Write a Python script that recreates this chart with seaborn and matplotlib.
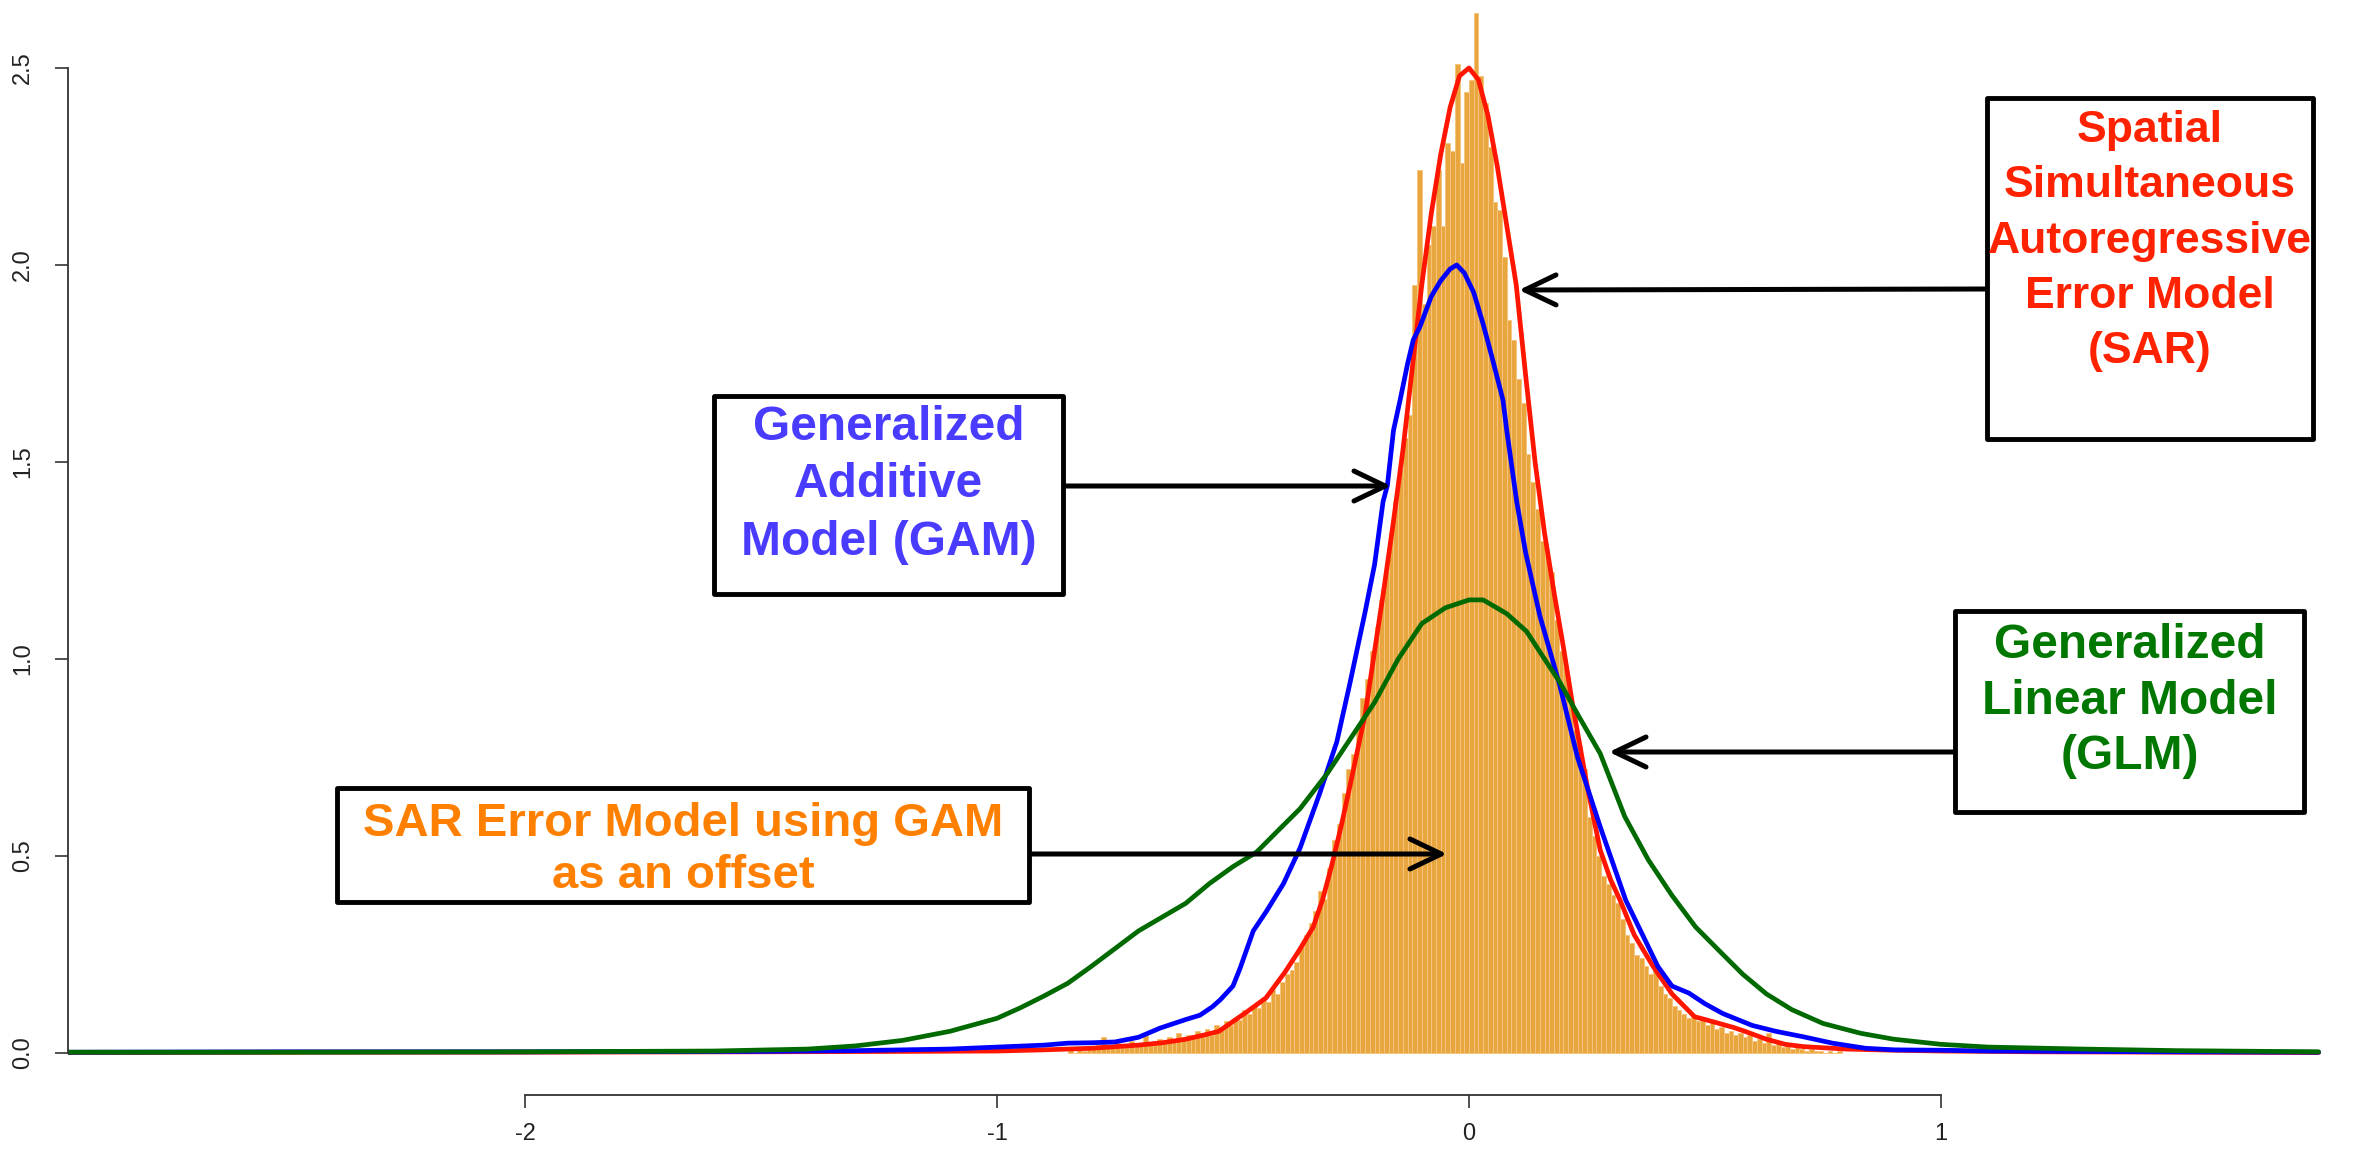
import matplotlib
matplotlib.use("Agg")
import numpy as np
import pandas as pd
import seaborn as sns
import matplotlib.pyplot as plt
from matplotlib.patches import Rectangle
from matplotlib import font_manager

# ---------------------------------------------------------------- data
# residual histogram: first bin edge, bin width and density per bin
hist_start = -0.85
hist_width = 0.01
hist_density = [
    0.01, 0.0, 0.01, 0.005, 0.015, 0.01, 0.02, 0.04, 0.015, 0.02,
    0.025, 0.015, 0.02, 0.03, 0.02, 0.025, 0.045, 0.02, 0.03, 0.035,
    0.025, 0.04, 0.03, 0.05, 0.035, 0.045, 0.04, 0.055, 0.05, 0.06,
    0.045, 0.07, 0.065, 0.08, 0.07, 0.09, 0.085, 0.11, 0.10, 0.12,
    0.115, 0.14, 0.13, 0.16, 0.15, 0.18, 0.20, 0.21, 0.23, 0.27,
    0.30, 0.33, 0.36, 0.41, 0.39, 0.47, 0.54, 0.58, 0.66, 0.72,
    0.76, 0.83, 0.90, 0.95, 1.02, 1.08, 1.15, 1.22, 1.30, 1.40,
    1.48, 1.56, 1.62, 1.95, 2.24, 1.90, 2.05, 2.10, 2.24, 2.10,
    2.31, 2.29, 2.51, 2.26, 2.44, 2.47, 2.64, 2.48, 2.41, 2.30,
    2.16, 2.14, 2.02, 1.86, 1.81, 1.71, 1.65, 1.52, 1.45, 1.38,
    1.30, 1.26, 1.22, 1.10, 1.02, 0.98, 0.90, 0.82, 0.78, 0.72,
    0.60, 0.55, 0.50, 0.45, 0.43, 0.40, 0.38, 0.34, 0.30, 0.28,
    0.25, 0.24, 0.22, 0.20, 0.21, 0.17, 0.15, 0.14, 0.12, 0.11,
    0.10, 0.09, 0.095, 0.08, 0.085, 0.07, 0.075, 0.06, 0.065, 0.05,
    0.055, 0.045, 0.05, 0.04, 0.045, 0.03, 0.035, 0.025, 0.05, 0.02,
    0.025, 0.015, 0.02, 0.01, 0.015, 0.01, 0.005, 0.01, 0.005, 0.005,
    0.0, 0.005, 0.0, 0.005,
]

# density of residuals, Spatial Simultaneous Autoregressive Error Model
sar_x = [-2.97, -2.5, -2.0, -1.5, -1.2, -1.0, -0.9, -0.8, -0.75, -0.7,
         -0.65, -0.6, -0.56, -0.53, -0.5, -0.47, -0.43, -0.39, -0.36, -0.33,
         -0.31, -0.29, -0.27, -0.25, -0.22, -0.2, -0.18, -0.16, -0.14, -0.12,
         -0.1, -0.08, -0.06, -0.04, -0.02, 0.0, 0.02, 0.04, 0.06, 0.08,
         0.1, 0.12, 0.14, 0.16, 0.18, 0.2, 0.22, 0.25, 0.278, 0.3,
         0.32, 0.35, 0.39, 0.43, 0.478, 0.5, 0.527, 0.56, 0.587, 0.63,
         0.67, 0.71, 0.8, 0.9, 1.0, 1.2, 1.5, 1.8]
sar_y = [0.001, 0.002, 0.002, 0.003, 0.004, 0.005, 0.008, 0.012, 0.016, 0.02,
         0.026, 0.035, 0.046, 0.055, 0.08, 0.105, 0.14, 0.205, 0.26, 0.32,
         0.39, 0.48, 0.58, 0.69, 0.86, 1.02, 1.18, 1.35, 1.53, 1.74,
         1.95, 2.13, 2.28, 2.40, 2.48, 2.50, 2.47, 2.38, 2.25, 2.10,
         1.95, 1.72, 1.50, 1.32, 1.17, 1.03, 0.88, 0.68, 0.515, 0.44,
         0.388, 0.30, 0.22, 0.15, 0.092, 0.085, 0.076, 0.065, 0.054, 0.035,
         0.022, 0.016, 0.01, 0.007, 0.005, 0.003, 0.002, 0.001]

# density of residuals, Generalized Additive Model
gam_x = [-2.97, -2.5, -2.0, -1.5, -1.3, -1.1, -1.0, -0.9, -0.85, -0.8,
         -0.75, -0.7, -0.655, -0.6, -0.57, -0.544, -0.527, -0.5, -0.485, -0.457,
         -0.429, -0.393, -0.358, -0.316, -0.28, -0.252, -0.22, -0.2, -0.182, -0.173,
         -0.16, -0.146, -0.13, -0.118, -0.104, -0.08, -0.06, -0.04, -0.026, -0.01,
         0.01, 0.03, 0.05, 0.072, 0.08, 0.101, 0.12, 0.15, 0.193, 0.23,
         0.278, 0.332, 0.4, 0.43, 0.466, 0.5, 0.538, 0.6, 0.65, 0.709,
         0.77, 0.84, 0.9, 1.0, 1.1, 1.3, 1.5, 1.8]
gam_y = [0.002, 0.003, 0.003, 0.004, 0.006, 0.01, 0.015, 0.02, 0.025, 0.026,
         0.028, 0.04, 0.063, 0.085, 0.096, 0.117, 0.135, 0.17, 0.215, 0.31,
         0.36, 0.43, 0.52, 0.66, 0.79, 0.94, 1.12, 1.24, 1.40, 1.44,
         1.58, 1.657, 1.75, 1.81, 1.843, 1.92, 1.96, 1.99, 2.0, 1.98,
         1.93, 1.85, 1.76, 1.657, 1.58, 1.40, 1.27, 1.11, 0.93, 0.75,
         0.574, 0.388, 0.22, 0.17, 0.152, 0.125, 0.10, 0.07, 0.055, 0.041,
         0.025, 0.012, 0.008, 0.007, 0.005, 0.004, 0.003, 0.002]

# density of residuals, Generalized Linear Model
glm_x = [-2.97, -2.5, -2.0, -1.6, -1.4, -1.3, -1.2, -1.1, -1.0, -0.95,
         -0.9, -0.85, -0.8, -0.75, -0.7, -0.65, -0.6, -0.55, -0.5, -0.45,
         -0.4, -0.358, -0.3, -0.25, -0.2, -0.15, -0.1, -0.05, 0.0, 0.03,
         0.08, 0.122, 0.16, 0.193, 0.23, 0.278, 0.33, 0.38, 0.43, 0.48,
         0.538, 0.58, 0.63, 0.684, 0.75, 0.83, 0.9, 1.0, 1.1, 1.3,
         1.5, 1.8]
glm_y = [0.002, 0.002, 0.003, 0.005, 0.01, 0.018, 0.032, 0.055, 0.088, 0.115,
         0.145, 0.177, 0.22, 0.265, 0.31, 0.345, 0.38, 0.43, 0.473, 0.51,
         0.57, 0.62, 0.71, 0.80, 0.89, 1.0, 1.09, 1.13, 1.15, 1.15,
         1.115, 1.07, 1.0, 0.94, 0.86, 0.76, 0.60, 0.49, 0.40, 0.32,
         0.25, 0.20, 0.15, 0.11, 0.075, 0.05, 0.035, 0.022, 0.015, 0.01,
         0.006, 0.003]

x_ticks = [-2, -1, 0, 1]
x_tick_labels = ["-2", "-1", "0", "1"]
y_ticks = [0.0, 0.5, 1.0, 1.5, 2.0, 2.5]
y_tick_labels = ["0.0", "0.5", "1.0", "1.5", "2.0", "2.5"]

label_sar = "Spatial\nSimultaneous\nAutoregressive\nError Model\n(SAR)"
label_gam = "Generalized\nAdditive\nModel (GAM)"
label_glm = "Generalized\nLinear Model\n(GLM)"
label_off = "SAR Error Model using GAM\nas an offset"

# ---------------------------------------------------------------- style
sns.set_theme(style="white")
installed = {f.name for f in font_manager.fontManager.ttflist}
tick_family = "Liberation Sans Narrow" if "Liberation Sans Narrow" in installed else "Liberation Sans"
plt.rcParams["font.family"] = ["Liberation Sans", "DejaVu Sans"]

W, H = 2358, 1149
fig = plt.figure(figsize=(W / 100, H / 100), dpi=100)
fig.patch.set_facecolor("white")

# plot region in pixels: left edge 68, right 2330, bottom 1095, top 0
PX_LEFT, PX_RIGHT, PX_BOTTOM = 68, 2330, 1095
X0_PX, Y0_PX, X_UNIT, Y_UNIT = 1469, 1053, 472, 394
ax = fig.add_axes([PX_LEFT / W, (H - PX_BOTTOM) / H, (PX_RIGHT - PX_LEFT) / W, PX_BOTTOM / H])
ax.set_facecolor("white")

# histogram of residuals
n_bins = len(hist_density)
centers = [hist_start + hist_width * (i + 0.5) for i in range(n_bins)]
hist_df = pd.DataFrame({"resid": centers, "dens": hist_density})
sns.histplot(data=hist_df, x="resid", weights="dens",
             binwidth=hist_width, binrange=(hist_start, hist_start + hist_width * n_bins),
             stat="count", color="#E9A63E", edgecolor="#F6C57E", linewidth=0.7,
             alpha=1.0, ax=ax)

# density curves
for xs, ys, col in [(sar_x, sar_y, "#FF1500"), (gam_x, gam_y, "#0000FF"), (glm_x, glm_y, "#006A00")]:
    sns.lineplot(x=xs, y=ys, color=col, linewidth=3.4, sort=False, estimator=None, ax=ax)

ax.set_xlim((PX_LEFT - X0_PX) / X_UNIT, (PX_RIGHT - X0_PX) / X_UNIT)
ax.set_ylim(-(PX_BOTTOM - Y0_PX) / Y_UNIT, Y0_PX / Y_UNIT)
ax.set_xlabel("")
ax.set_ylabel("")
ax.grid(False)

for s in ["top", "right"]:
    ax.spines[s].set_visible(False)
for s in ["left", "bottom"]:
    ax.spines[s].set_color("#333333")
    ax.spines[s].set_linewidth(1.3)
ax.spines["left"].set_bounds(0, 2.5)
ax.spines["bottom"].set_bounds(-2, 1)

ax.set_xticks(x_ticks)
ax.set_xticklabels(x_tick_labels, family=tick_family, fontsize=17, color="#222222")
ax.set_yticks(y_ticks)
ax.set_yticklabels(y_tick_labels, family=tick_family, fontsize=17, color="#222222",
                   rotation=90, va="center")
ax.tick_params(axis="both", which="both", bottom=True, left=True, direction="out",
               length=9.5, width=1.2, color="#333333")
ax.tick_params(axis="x", pad=11)
ax.tick_params(axis="y", pad=15)


# ---------------------------------------------------------------- annotations
def to_data(px, py):
    return (px - X0_PX) / X_UNIT, (Y0_PX - py) / Y_UNIT


def labelled_box(x0, y0, x1, y1, text, color, size, spacing, text_y, tail, tip):
    fig.add_artist(Rectangle((x0 / W, 1 - y1 / H), (x1 - x0) / W, (y1 - y0) / H,
                             transform=fig.transFigure, facecolor="white",
                             edgecolor="black", linewidth=3.5, joinstyle="round",
                             zorder=5))
    fig.text((x0 + x1) / 2 / W, 1 - text_y / H, text, ha="center", va="center",
             fontsize=size, fontweight="bold", color=color, linespacing=spacing,
             zorder=6)
    ax.annotate("", xy=to_data(*tip), xycoords="data",
                xytext=(tail[0], H - tail[1]), textcoords="figure pixels",
                arrowprops=dict(arrowstyle="->,head_length=0.75,head_width=0.36",
                                color="black", lw=3.6, mutation_scale=30,
                                shrinkA=0, shrinkB=0, capstyle="round",
                                joinstyle="round"),
                zorder=7)


# box (x0, y0, x1, y1) in pixels, text centre y, arrow tail and arrow tip
labelled_box(1987, 98, 2313, 439, label_sar, "#FF2200", 32, 1.44, 241,
             (1987, 289), (1519, 290))
labelled_box(714, 396, 1063, 594, label_gam, "#4A3CFF", 34.5, 1.35, 485,
             (1061, 486), (1391, 486))
labelled_box(1955, 611, 2304, 812, label_glm, "#007700", 34.5, 1.29, 701,
             (1955, 752), (1609, 752))
labelled_box(337, 788, 1029, 902, label_off, "#FF8000", 34, 1.22, 850,
             (1029, 854), (1447, 854))

fig.savefig("out.png", dpi=100, facecolor="white")
